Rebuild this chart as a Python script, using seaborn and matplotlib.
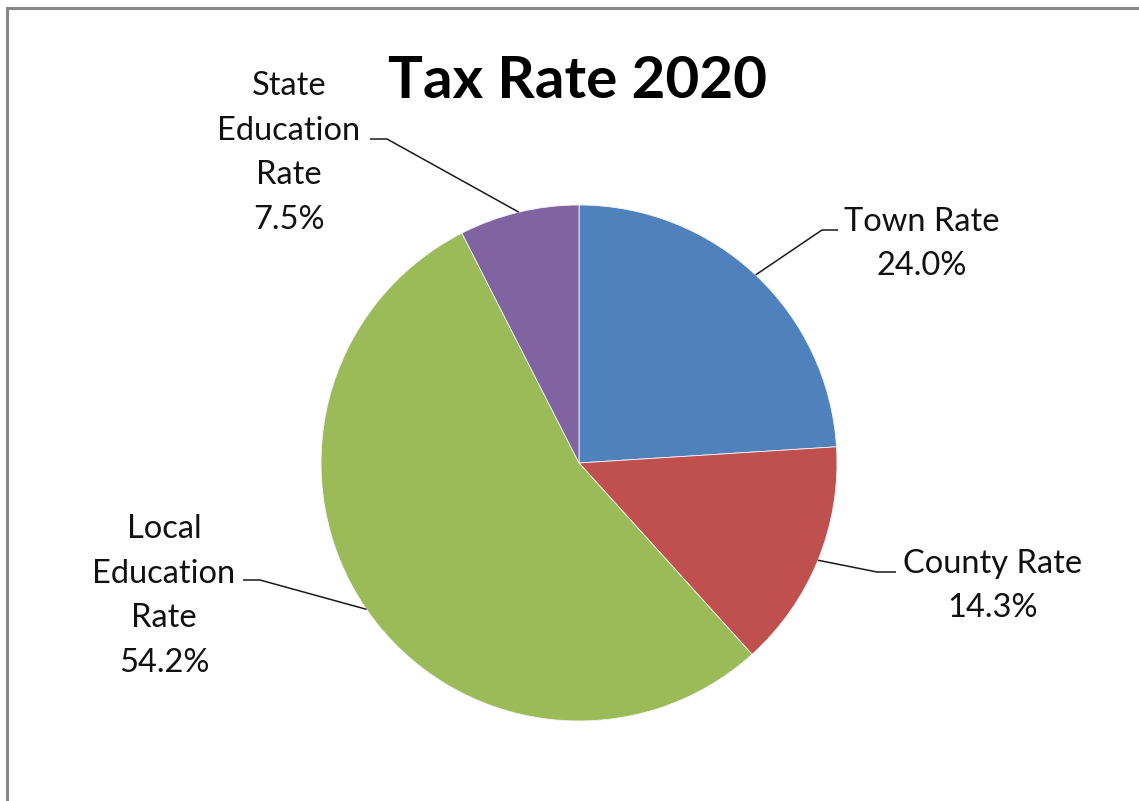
import numpy as np
import matplotlib
matplotlib.use("Agg")
import matplotlib.pyplot as plt
import matplotlib.patches as mpatches
import seaborn as sns

# ---- data ----
categories = ["Town Rate", "County Rate", "Local\nEducation\nRate", "State\nEducation\nRate"]
shares = [24.0, 14.3, 54.2, 7.5]
colors = ["#4F81BD", "#C0504D", "#9BBB59", "#8064A2"]
title = "Tax Rate 2020"

sns.set_theme(style="white")
plt.rcParams["font.family"] = ["Lato", "DejaVu Sans"]

W, H = 1139, 801
fig = plt.figure(figsize=(W / 100, H / 100), dpi=100)
ax = fig.add_axes([0, 0, 1, 1])

cx, cy, r = 579, H - 463, 258
palette = sns.color_palette(colors)
wedges, _ = ax.pie(shares, colors=palette, startangle=90, counterclock=False,
                   center=(cx, cy), radius=r,
                   wedgeprops=dict(linewidth=0.6, edgecolor="#f4f4f4"))
ax.set_xlim(0, W)
ax.set_ylim(0, H)
ax.set_aspect("auto")
ax.axis("off")

# label layout: (elbow x, elbow y, end x, text x, text y center)
layout = [
    (822, 230, 838, 922, 244),
    (877, 572, 896, 993, 586),
    (260, 580, 243, 164, 596),
    (387, 139, 370, 289, 153),
]
for w, lab, val, (ex, ey, endx, tx, ty) in zip(wedges, categories, shares, layout):
    ang = np.deg2rad((w.theta1 + w.theta2) / 2)
    sx, sy = cx + r * np.cos(ang), cy + r * np.sin(ang)
    ax.plot([sx, ex, endx], [sy, H - ey, H - ey], color="#1a1a1a", lw=1.1,
            solid_capstyle="butt")
    ax.text(tx, H - ty, f"{lab}\n{val:.1f}%", ha="center", va="center",
            fontsize=23.5, color="#111111", linespacing=1.61)

ax.text(578, H - 82, title, ha="center", va="center", fontsize=42,
        fontweight="bold", color="black")

border = mpatches.Rectangle((6.5, -30), 1300, (H - 7.5) + 30, fill=False,
                            edgecolor="#888888", linewidth=2.2)
ax.add_patch(border)

fig.savefig("out.png", dpi=100)
